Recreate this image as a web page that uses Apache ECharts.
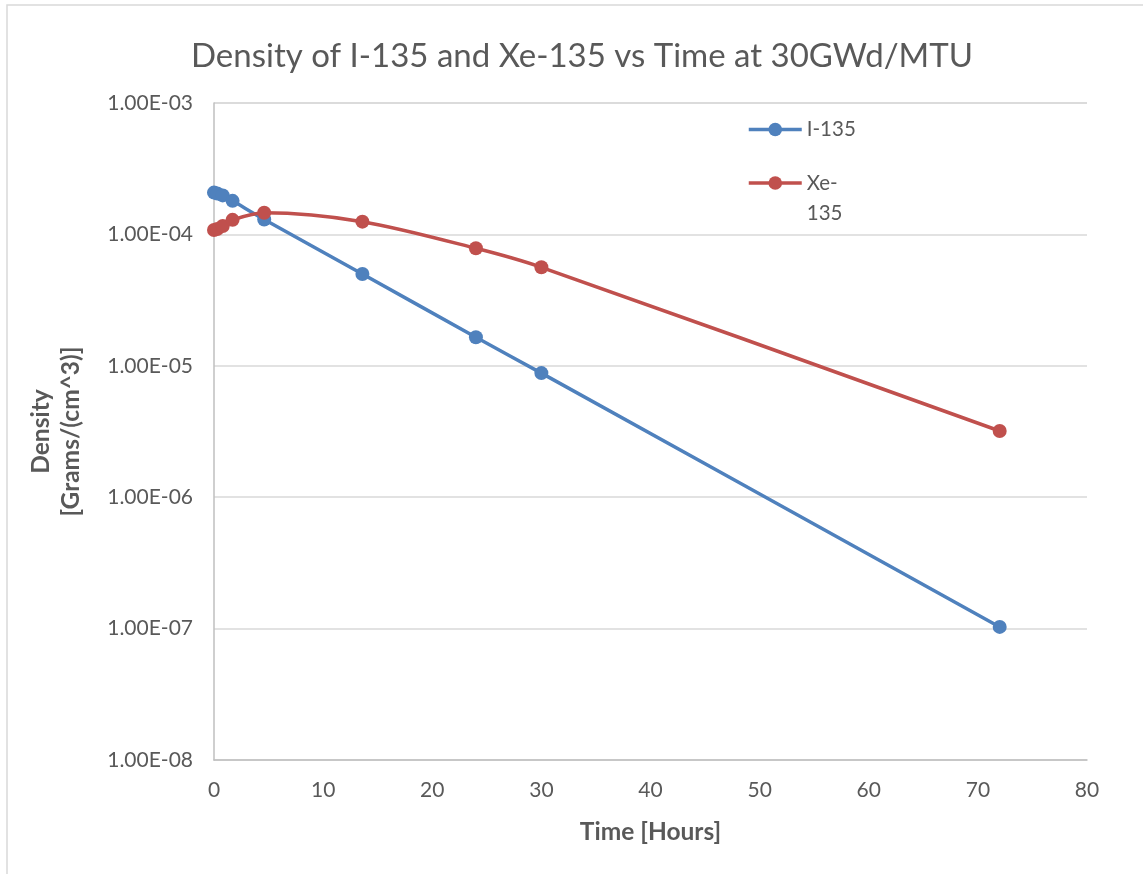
<!DOCTYPE html>
<html>
<head>
<meta charset="utf-8">
<title>Density of I-135 and Xe-135 vs Time</title>
<script src="https://cdn.jsdelivr.net/npm/echarts@6/dist/echarts.min.js"></script>
<style>
  html, body { margin: 0; padding: 0; background: #fff; }
  #chart { width: 1143px; height: 874px; }
</style>
</head>
<body>
<div id="chart"></div>
<script>
// Time after shutdown, hours
const timeHours = [0, 0.3, 0.8, 1.7, 4.6, 13.6, 24, 30, 72];
// Number density, grams/cm^3
const i135 = [2.08e-4, 2.05e-4, 1.98e-4, 1.80e-4, 1.30e-4, 5.0e-5, 1.65e-5, 8.8e-6, 1.03e-7];
const xe135 = [1.08e-4, 1.10e-4, 1.16e-4, 1.29e-4, 1.46e-4, 1.25e-4, 7.84e-5, 5.62e-5, 3.19e-6];

const seriesNames = ['I-135', 'Xe-135'];
const seriesColors = ['#4F81BD', '#C0504D'];

const FONT = 'Lato, "Noto Sans", sans-serif';
const TEXT = '#595959';

function sciLabel(v) {
  const e = Math.round(Math.log10(v));
  const m = v / Math.pow(10, e);
  const sign = e < 0 ? '-' : '+';
  const ae = Math.abs(e);
  return m.toFixed(2) + 'E' + sign + (ae < 10 ? '0' + ae : String(ae));
}

const toPairs = (ys) => timeHours.map((t, i) => [t, ys[i]]);

const lineSeries = (idx, ys) => ({
  name: seriesNames[idx],
  type: 'line',
  data: toPairs(ys),
  smooth: 0.3,
  symbol: 'circle',
  symbolSize: 14,
  color: seriesColors[idx],
  lineStyle: { width: 3.5, color: seriesColors[idx] },
  itemStyle: { color: seriesColors[idx] }
});

// shared legend look: long line with a round marker
const legendBase = {
  left: 747,
  padding: 0,
  itemWidth: 53,
  itemHeight: 17,
  lineStyle: { width: 3.5 }
};

const chart = echarts.init(document.getElementById('chart'), null, { renderer: 'canvas' });

chart.setOption({
  backgroundColor: '#fff',
  animation: false,
  textStyle: { fontFamily: FONT },
  graphic: [{
    type: 'rect',
    shape: { x: 7, y: 5, width: 1300, height: 1000 },
    style: { fill: 'none', stroke: '#D9D9D9', lineWidth: 1.5 },
    silent: true,
    z: -10
  }],
  title: {
    text: 'Density of I-135 and Xe-135 vs Time at 30GWd/MTU',
    left: 577,
    textAlign: 'center',
    top: 35,
    textStyle: { fontFamily: FONT, fontSize: 33, fontWeight: 'normal', color: TEXT }
  },
  legend: [Object.assign({}, legendBase, {
    data: [seriesNames[0]],
    top: 119,
    textStyle: { fontFamily: FONT, fontSize: 20.5, color: TEXT }
  }), Object.assign({}, legendBase, {
    data: [seriesNames[1]],
    top: 138,
    formatter: () => '\nXe-\n135',
    textStyle: { fontFamily: FONT, fontSize: 20.5, color: TEXT, lineHeight: 30 }
  })],
  grid: { left: 214, right: 56, top: 103, bottom: 114, containLabel: false },
  xAxis: {
    type: 'value',
    min: 0,
    max: 80,
    interval: 10,
    name: 'Time [Hours]',
    nameLocation: 'middle',
    nameGap: 60,
    nameTextStyle: { fontFamily: FONT, fontSize: 24.5, fontWeight: 'bold', color: TEXT },
    axisLine: { show: true, lineStyle: { color: '#BFBFBF', width: 1.5 } },
    axisTick: { show: false },
    splitLine: { show: false },
    axisLabel: { fontFamily: FONT, fontSize: 21, color: TEXT, margin: 20 }
  },
  yAxis: {
    type: 'log',
    logBase: 10,
    min: 1e-8,
    max: 1e-3,
    name: 'Density\n[Grams/(cm^3)]',
    nameLocation: 'middle',
    nameRotate: 90,
    nameGap: 128,
    nameTextStyle: { fontFamily: FONT, fontSize: 24.5, fontWeight: 'bold', color: TEXT, lineHeight: 30, align: 'center' },
    axisLine: { show: true, lineStyle: { color: '#BFBFBF', width: 1.5 } },
    axisTick: { show: false },
    splitLine: { show: true, lineStyle: { color: '#D9D9D9', width: 1.5 } },
    axisLabel: { fontFamily: FONT, fontSize: 21, color: TEXT, margin: 21, formatter: sciLabel }
  },
  series: [lineSeries(0, i135), lineSeries(1, xe135)]
});
</script>
</body>
</html>
